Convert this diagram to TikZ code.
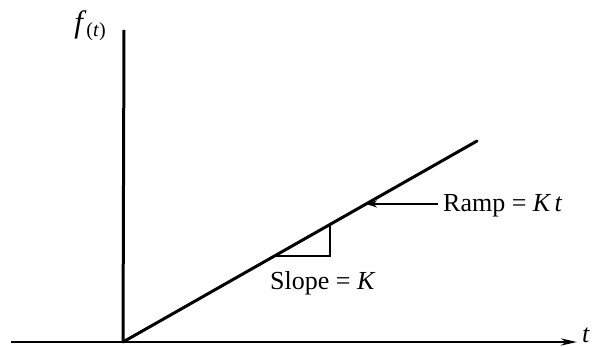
\documentclass[tikz,border=0pt]{standalone}
\usepackage{fontspec}
\setmainfont{Liberation Serif}
\usepackage{tikz}
\usetikzlibrary{arrows.meta, positioning, calc}

\begin{document}
\begin{tikzpicture}[x=1pt, y=-1pt, font=\fontsize{26}{30}\selectfont, inner sep=0pt]
    \useasboundingbox (0,0) rectangle (598,347);
    \coordinate (O) at (123,342);
    \coordinate (ytop) at (124,30);
    \coordinate (xleft) at (11,342);
    \coordinate (xtip) at (577,342);
    \coordinate (rampend) at (477,141);
    \coordinate (tri) at ($(O)!0.43!(rampend)$);
    \coordinate (tritop) at ($(O)!0.585!(rampend)$);
    \coordinate (hit) at ($(O)!0.6866!(rampend)$);

    \node (ylabel) [anchor=center] at (90,26) {\fontsize{31}{34}\selectfont\textit{f}\raisebox{-0.3ex}{\fontsize{20}{22}\selectfont(\textit{t})}};
    \node (xlabel) [anchor=south west] at (582,343) {\textit{t}};
    \node (slope) [anchor=base west] at (270,290) {Slope = \textit{K}};
    \node (ramp) [anchor=base west] at (443,212) {Ramp = \textit{K\,t}};

    \draw [line width=3pt] (ytop) -- (O);
    \draw [line width=2.6pt, -{Stealth[length=16pt,width=7pt]}] (xleft) -- (xtip);
    \draw [line width=3pt, line cap=round] (O) -- (rampend);
    \draw [line width=2pt] (tri) -- (tri -| tritop) -- (tritop);
    \draw [line width=1.5pt, -{Stealth[length=11pt,width=7pt]}] (ramp.west |- hit) ++(-5,0) -- (hit);
\end{tikzpicture}
\end{document}
